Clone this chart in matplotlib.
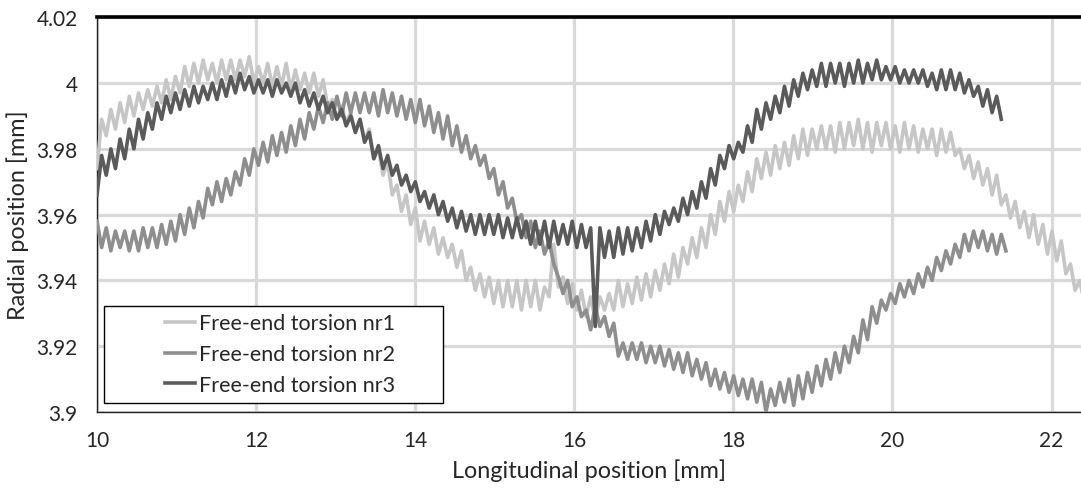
import numpy as np
import matplotlib
matplotlib.use("Agg")
import matplotlib.pyplot as plt
from matplotlib.patches import Rectangle

# profile sampling grid (mm): start + constant step
x_start = 10.0
x_step = 0.058

labels = ["Free-end torsion nr1", "Free-end torsion nr2", "Free-end torsion nr3"]
colors = ["#c6c6c6", "#8e8e8e", "#5a5a5a"]

# radial position [mm], one value per sample (ripple peaks / troughs)
r1 = [3.974, 3.989, 3.984, 3.992, 3.986, 3.994, 3.988, 3.996, 3.990, 3.997,
      3.992, 3.998, 3.993, 3.999, 3.994, 4.001, 3.995, 4.002, 3.997, 4.005,
      3.999, 4.006, 4.000, 4.007, 4.001, 4.006, 4.000, 4.007, 4.001, 4.007,
      4.001, 4.007, 4.002, 4.008, 4.000, 4.005, 4.000, 4.006, 3.999, 4.005,
      3.999, 4.006, 3.998, 4.004, 3.998, 4.003, 3.997, 4.003, 3.996, 4.001,
      3.993, 3.995, 3.989, 3.993, 3.988, 3.991, 3.985, 3.989, 3.983, 3.986,
      3.977, 3.980, 3.972, 3.976, 3.966, 3.969, 3.961, 3.966, 3.957, 3.962,
      3.952, 3.958, 3.951, 3.956, 3.948, 3.953, 3.947, 3.951, 3.944, 3.949,
      3.940, 3.944, 3.937, 3.942, 3.935, 3.941, 3.933, 3.940, 3.932, 3.940,
      3.932, 3.940, 3.931, 3.940, 3.932, 3.940, 3.931, 3.938, 3.935, 3.951,
      3.938, 3.941, 3.933, 3.939, 3.931, 3.937, 3.929, 3.935, 3.928, 3.935,
      3.931, 3.936, 3.931, 3.940, 3.932, 3.939, 3.933, 3.941, 3.934, 3.942,
      3.935, 3.943, 3.937, 3.945, 3.939, 3.948, 3.941, 3.950, 3.945, 3.953,
      3.947, 3.956, 3.950, 3.960, 3.954, 3.964, 3.958, 3.967, 3.961, 3.969,
      3.964, 3.973, 3.967, 3.977, 3.971, 3.979, 3.972, 3.981, 3.974, 3.982,
      3.975, 3.984, 3.977, 3.986, 3.978, 3.986, 3.980, 3.987, 3.980, 3.987,
      3.979, 3.988, 3.980, 3.988, 3.981, 3.989, 3.980, 3.988, 3.979, 3.988,
      3.981, 3.988, 3.980, 3.987, 3.979, 3.988, 3.980, 3.987, 3.979, 3.986,
      3.980, 3.986, 3.978, 3.986, 3.979, 3.985, 3.978, 3.980, 3.974, 3.978,
      3.971, 3.976, 3.969, 3.974, 3.966, 3.972, 3.963, 3.966, 3.959, 3.964,
      3.956, 3.961, 3.953, 3.960, 3.951, 3.957, 3.948, 3.955, 3.946, 3.952,
      3.942, 3.945, 3.937, 3.940, 3.933]

r2 = [3.958, 3.950, 3.956, 3.949, 3.955, 3.950, 3.955, 3.949, 3.955, 3.949,
      3.956, 3.950, 3.956, 3.950, 3.957, 3.951, 3.958, 3.952, 3.960, 3.954,
      3.962, 3.956, 3.964, 3.959, 3.968, 3.963, 3.970, 3.964, 3.971, 3.966,
      3.973, 3.969, 3.977, 3.972, 3.980, 3.975, 3.982, 3.976, 3.984, 3.978,
      3.985, 3.979, 3.987, 3.981, 3.989, 3.983, 3.991, 3.986, 3.993, 3.988,
      3.994, 3.989, 3.996, 3.990, 3.997, 3.991, 3.997, 3.991, 3.997, 3.991,
      3.997, 3.990, 3.998, 3.991, 3.997, 3.990, 3.996, 3.989, 3.995, 3.988,
      3.995, 3.987, 3.993, 3.985, 3.991, 3.983, 3.990, 3.981, 3.987, 3.979,
      3.984, 3.977, 3.981, 3.975, 3.978, 3.971, 3.974, 3.966, 3.970, 3.962,
      3.965, 3.958, 3.960, 3.953, 3.958, 3.950, 3.955, 3.948, 3.952, 3.945,
      3.941, 3.936, 3.940, 3.932, 3.935, 3.929, 3.931, 3.925, 3.932, 3.926,
      3.929, 3.923, 3.927, 3.917, 3.921, 3.916, 3.921, 3.916, 3.921, 3.915,
      3.920, 3.915, 3.920, 3.914, 3.919, 3.913, 3.918, 3.912, 3.918, 3.911,
      3.916, 3.910, 3.915, 3.908, 3.913, 3.907, 3.912, 3.906, 3.911, 3.905,
      3.910, 3.904, 3.910, 3.903, 3.909, 3.900, 3.907, 3.902, 3.909, 3.903,
      3.910, 3.902, 3.911, 3.904, 3.912, 3.906, 3.914, 3.908, 3.916, 3.910,
      3.918, 3.912, 3.920, 3.915, 3.923, 3.918, 3.928, 3.922, 3.932, 3.927,
      3.934, 3.931, 3.936, 3.933, 3.939, 3.935, 3.940, 3.936, 3.942, 3.938,
      3.944, 3.940, 3.947, 3.943, 3.949, 3.945, 3.951, 3.947, 3.954, 3.949,
      3.955, 3.950, 3.955, 3.949, 3.954, 3.948, 3.954, 3.949]

r3 = [3.966, 3.978, 3.972, 3.980, 3.974, 3.983, 3.977, 3.986, 3.980, 3.989,
      3.983, 3.991, 3.986, 3.994, 3.989, 3.996, 3.991, 3.997, 3.992, 3.998,
      3.993, 3.999, 3.994, 3.999, 3.995, 4.000, 3.995, 4.001, 3.996, 4.002,
      3.997, 4.003, 3.998, 4.002, 3.997, 4.001, 3.997, 4.001, 3.996, 4.001,
      3.997, 4.000, 3.996, 4.000, 3.994, 3.998, 3.993, 3.997, 3.992, 3.996,
      3.991, 3.994, 3.989, 3.992, 3.987, 3.990, 3.985, 3.989, 3.982, 3.985,
      3.977, 3.981, 3.974, 3.978, 3.972, 3.975, 3.969, 3.972, 3.967, 3.970,
      3.964, 3.967, 3.962, 3.966, 3.960, 3.964, 3.958, 3.962, 3.956, 3.961,
      3.955, 3.960, 3.954, 3.960, 3.954, 3.960, 3.954, 3.960, 3.953, 3.959,
      3.953, 3.959, 3.953, 3.958, 3.951, 3.958, 3.951, 3.958, 3.950, 3.958,
      3.951, 3.957, 3.951, 3.958, 3.950, 3.957, 3.950, 3.956, 3.926, 3.956,
      3.947, 3.955, 3.947, 3.956, 3.948, 3.956, 3.949, 3.956, 3.950, 3.958,
      3.952, 3.960, 3.954, 3.961, 3.957, 3.962, 3.958, 3.965, 3.960, 3.967,
      3.962, 3.970, 3.965, 3.974, 3.969, 3.978, 3.974, 3.981, 3.977, 3.982,
      3.979, 3.987, 3.982, 3.992, 3.986, 3.994, 3.989, 3.996, 3.991, 3.999,
      3.993, 4.001, 3.996, 4.003, 3.998, 4.004, 3.999, 4.006, 3.999, 4.006,
      4.000, 4.006, 3.999, 4.006, 4.000, 4.007, 4.000, 4.006, 4.001, 4.007,
      4.001, 4.005, 4.001, 4.005, 4.000, 4.004, 4.000, 4.004, 4.000, 4.004,
      3.999, 4.003, 3.998, 4.004, 3.998, 4.004, 3.998, 4.003, 3.997, 4.001,
      3.996, 3.999, 3.993, 3.998, 3.991, 3.996, 3.989]

series = [r1, r2, r3]

x_ticks = [10, 12, 14, 16, 18, 20, 22]
y_ticks = [3.9, 3.92, 3.94, 3.96, 3.98, 4.0, 4.02]

plt.rcParams["font.family"] = ["Lato", "DejaVu Sans"]
txt = "#262626"

fig = plt.figure(figsize=(10.81, 4.89), dpi=100)
ax = fig.add_axes([97/1081, 1 - 413/489, 984/1081, 394.7/489])

for y, lab, c in zip(series, labels, colors):
    x = x_start + x_step * np.arange(len(y))
    ax.plot(x, y, color=c, lw=2.6, label=lab, solid_joinstyle="round", zorder=3)

ax.set_xlim(10, 22.37)
ax.set_ylim(3.9, 4.02)
ax.set_xticks(x_ticks)
ax.set_yticks(y_ticks)
ax.set_yticklabels([f"{v:g}" for v in y_ticks])
ax.grid(True, color="#d9d9d9", lw=2.3, zorder=0)
ax.set_axisbelow(True)
ax.tick_params(length=0, labelsize=15, colors=txt)
ax.tick_params(axis="y", pad=14)
ax.tick_params(axis="x", pad=13)

for s in ("left", "bottom"):
    ax.spines[s].set_color("#202020"); ax.spines[s].set_linewidth(1.0)
ax.spines["top"].set_color("black"); ax.spines["top"].set_linewidth(2.6)
ax.spines["right"].set_visible(False)

ax.set_xlabel("Longitudinal position [mm]", fontsize=16.8, color=txt, labelpad=6)
ax.set_ylabel("Radial position [mm]", fontsize=16.8, color=txt)
ax.yaxis.set_label_coords(-0.069, 0.5)

# legend: white box with black edge, entries indented to the right
ax.add_patch(Rectangle((7/984, 9/394.7), 339/984, 97/394.7, transform=ax.transAxes,
                       facecolor="white", edgecolor="black", lw=1.0, zorder=5))
leg = ax.legend(loc="upper left", bbox_to_anchor=(68/984, 1 - 296/394.7), frameon=False,
                fontsize=15.5, handlelength=1.38, handletextpad=0.22, labelspacing=0.5,
                borderpad=0, borderaxespad=0)
leg.set_zorder(6)
for t in leg.get_texts():
    t.set_color(txt)

fig.savefig("out.png", dpi=100)
